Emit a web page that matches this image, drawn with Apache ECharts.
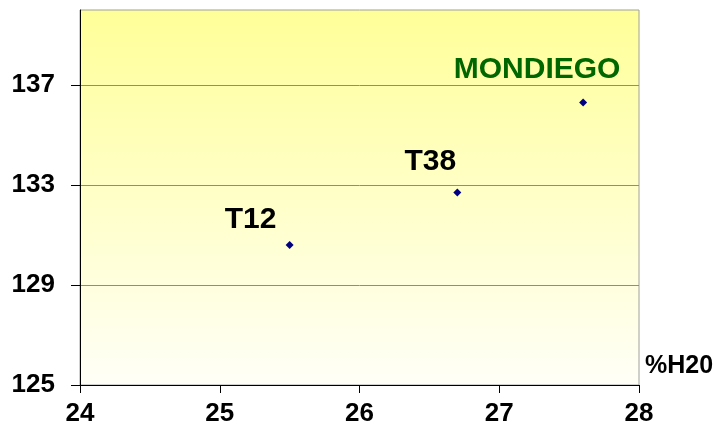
<!DOCTYPE html>
<html>
<head>
<meta charset="utf-8">
<script src="https://cdn.jsdelivr.net/npm/echarts@6/dist/echarts.min.js"></script>
<style>
  html, body { margin: 0; padding: 0; background: #fff; }
  #chart { width: 718px; height: 430px; }
</style>
</head>
<body>
<div id="chart"></div>
<script>
const names = ['T12', 'T38', 'MONDIEGO']
const h2o = [25.5, 26.7, 27.6]
const days = [130.6, 132.7, 136.3]
const yTicks = [125, 129, 133, 137]
const xTicks = [24, 25, 26, 27, 28]

// label placement relative to each point
const labelStyle = {
  T12: { offset: [-39, -25], color: '#000' },
  T38: { offset: [-27, -31], color: '#000' },
  MONDIEGO: { offset: [-46, -33], color: '#006600' }
}

const chart = echarts.init(document.getElementById('chart'), null, { renderer: 'canvas' })
chart.setOption({
  animation: false,
  backgroundColor: '#fff',
  textStyle: { fontFamily: '"Liberation Sans", Arial, sans-serif' },
  grid: {
    left: 80, right: 79, top: 10, bottom: 45,
    show: true,
    borderColor: '#a0a0a0',
    borderWidth: 1,
    backgroundColor: new echarts.graphic.LinearGradient(0, 0, 0, 1, [
      { offset: 0, color: '#ffff99' },
      { offset: 1, color: '#fffff8' }
    ])
  },
  xAxis: {
    type: 'value',
    min: 24, max: 28, interval: 1,
    name: '%H20',
    nameLocation: 'end',
    nameGap: 0,
    nameTextStyle: {
      fontSize: 25, fontWeight: 'bold', color: '#000',
      align: 'left', verticalAlign: 'bottom', padding: [0, 0, 6, 6]
    },
    axisLine: { lineStyle: { color: '#000', width: 1 } },
    axisTick: { length: 8, lineStyle: { color: '#000' }, customValues: xTicks },
    axisLabel: { fontSize: 26, fontWeight: 'bold', color: '#000', margin: 16, customValues: xTicks },
    splitLine: { show: false }
  },
  yAxis: {
    type: 'value',
    min: 125, max: 140, interval: 4,
    axisLine: { show: true, lineStyle: { color: '#000', width: 1 } },
    axisTick: { show: true, length: 9, lineStyle: { color: '#000' }, customValues: yTicks },
    axisLabel: { fontSize: 26, fontWeight: 'bold', color: '#000', margin: 25, customValues: yTicks },
    splitLine: { lineStyle: { color: '#8c8c8c', width: 1 } }
  },
  series: [{
    type: 'scatter',
    symbol: 'diamond',
    symbolSize: 8,
    itemStyle: { color: '#000080', opacity: 1 },
    data: names.map((n, i) => ({
      value: [h2o[i], days[i]],
      label: {
        show: true,
        formatter: n,
        position: 'inside',
        offset: labelStyle[n].offset,
        color: labelStyle[n].color,
        textBorderWidth: 0,
        textBorderColor: 'transparent',
        opacity: 1,
        fontSize: 30,
        fontWeight: 'bold'
      }
    }))
  }]
})
</script>
</body>
</html>
